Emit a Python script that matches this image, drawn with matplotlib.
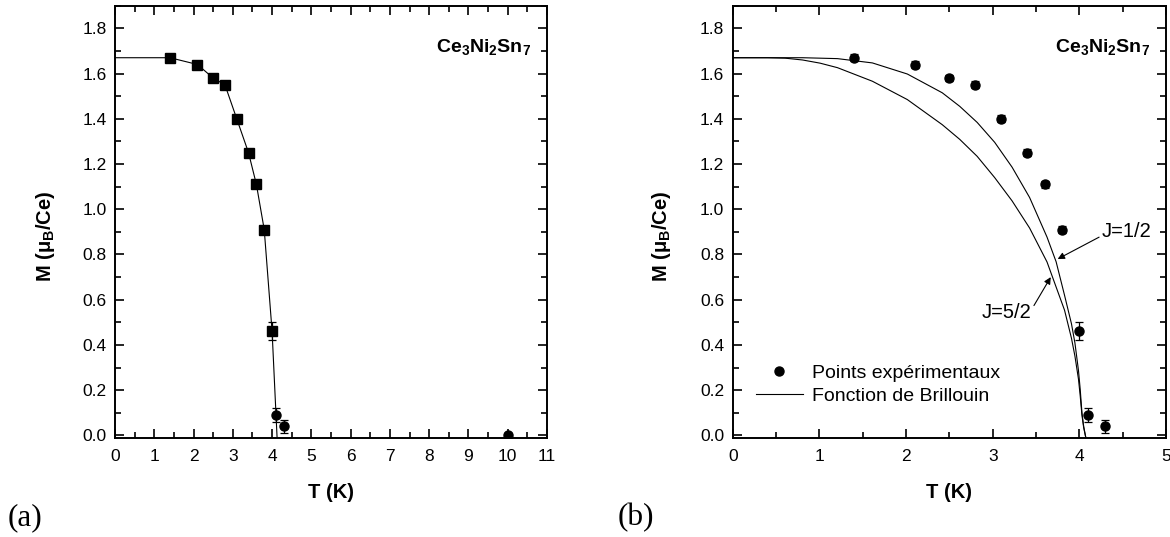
import matplotlib
matplotlib.use("Agg")
import matplotlib.pyplot as plt
from matplotlib.lines import Line2D
from matplotlib.ticker import MultipleLocator, FormatStrFormatter

plt.rcParams['font.family'] = ['Liberation Sans', 'DejaVu Sans']
plt.rcParams['mathtext.fontset'] = 'custom'
plt.rcParams['mathtext.rm'] = 'Liberation Sans'
plt.rcParams['mathtext.bf'] = 'Liberation Sans:bold'
plt.rcParams['mathtext.it'] = 'Liberation Sans:italic'

# ---- data (a) ----
a_T_sq = [1.4, 2.1, 2.5, 2.8, 3.1, 3.4, 3.6, 3.8, 4.0]
a_M_sq = [1.67, 1.64, 1.58, 1.55, 1.40, 1.25, 1.11, 0.91, 0.46]
a_E_sq = [0.015, 0.015, 0.015, 0.015, 0.015, 0.015, 0.015, 0.015, 0.04]
a_T_ci = [4.1, 4.3, 10.0]
a_M_ci = [0.09, 0.04, 0.0]
a_E_ci = [0.03, 0.03, 0.01]
a_line_T = [0.0, 1.4, 2.1, 2.5, 2.8, 3.1, 3.4, 3.6, 3.8, 4.0, 4.1, 4.13]
a_line_M = [1.67, 1.67, 1.64, 1.58, 1.55, 1.40, 1.25, 1.11, 0.91, 0.46, 0.09, -0.02]

# ---- data (b) ----
b_T = [1.4, 2.1, 2.5, 2.8, 3.1, 3.4, 3.6, 3.8, 4.0, 4.1, 4.3]
b_M = [1.67, 1.64, 1.58, 1.55, 1.40, 1.25, 1.11, 0.91, 0.46, 0.09, 0.04]
b_E = [0.015, 0.015, 0.015, 0.015, 0.015, 0.015, 0.015, 0.015, 0.04, 0.03, 0.03]

# Brillouin curves
j12_T = [0.0, 0.806, 1.209, 1.612, 2.015, 2.418, 2.620, 2.821, 3.023, 3.224,
         3.426, 3.627, 3.732, 3.829, 3.909, 3.949, 3.990, 4.010, 4.030, 4.050, 4.080]
j12_M = [1.670, 1.670, 1.666, 1.647, 1.598, 1.515, 1.455, 1.384, 1.296, 1.186,
         1.052, 0.877, 0.768, 0.620, 0.494, 0.409, 0.287, 0.204, 0.100, 0.040, -0.020]
j52_T = [0.0, 0.403, 0.605, 0.806, 1.008, 1.209, 1.612, 2.015, 2.418, 2.620, 2.821,
         3.023, 3.224, 3.426, 3.627, 3.829, 3.909, 3.949, 3.990, 4.010, 4.030, 4.050, 4.080]
j52_M = [1.670, 1.670, 1.668, 1.660, 1.646, 1.626, 1.566, 1.485, 1.374, 1.309, 1.234,
         1.140, 1.037, 0.917, 0.767, 0.554, 0.430, 0.351, 0.249, 0.175, 0.090, 0.035, -0.020]

legend_labels = ['Points expérimentaux', 'Fonction de Brillouin']

W, H = 1170, 537
fig = plt.figure(figsize=(W / 100, H / 100), dpi=100)

ax1 = fig.add_axes([115 / W, (H - 437.7) / H, 432 / W, 432 / H])
ax2 = fig.add_axes([732.7 / W, (H - 437.7) / H, 433.3 / W, 432 / H])

ms = 6.5
eb = dict(ecolor='black', elinewidth=0.9, capsize=3.2, capthick=0.9, zorder=3)
# (a)
ax1.plot(a_line_T, a_line_M, color='black', lw=0.8, zorder=2)
ax1.errorbar(a_T_sq, a_M_sq, yerr=a_E_sq, fmt='s', color='black', ms=ms, **eb)
ax1.errorbar(a_T_ci, a_M_ci, yerr=a_E_ci, fmt='o', color='black', ms=ms, **eb)
ax1.set_xlim(0, 11)

# (b)
ax2.plot(j12_T, j12_M, color='black', lw=0.8, zorder=2)
ax2.plot(j52_T, j52_M, color='black', lw=0.8, zorder=2)
ax2.errorbar(b_T, b_M, yerr=b_E, fmt='o', color='black', ms=ms, **eb)
ax2.set_xlim(0, 5)

for ax in (ax1, ax2):
    ax.set_ylim(-0.01, 1.9)
    ax.xaxis.set_major_locator(MultipleLocator(1))
    ax.xaxis.set_minor_locator(MultipleLocator(0.5))
    ax.xaxis.set_major_formatter(FormatStrFormatter('%d'))
    ax.yaxis.set_major_locator(MultipleLocator(0.2))
    ax.yaxis.set_minor_locator(MultipleLocator(0.1))
    ax.yaxis.set_major_formatter(FormatStrFormatter('%.1f'))
    ax.tick_params(which='both', direction='in', top=True, right=True,
                   width=1.2, labelsize=12.5)
    ax.tick_params(which='major', length=6.5)
    ax.tick_params(which='minor', length=4)
    ax.tick_params(axis='x', pad=8)
    ax.tick_params(axis='y', pad=6)
    for s in ax.spines.values():
        s.set_linewidth(1.4)
    ax.set_xlabel('T (K)', fontsize=14.5, fontweight='bold', labelpad=14)
    ax.set_ylabel(r'M (μ$_\mathbf{B}$/Ce)', fontsize=14.5, fontweight='bold')
    ax.text(0.963, 0.905, r'Ce$_\mathbf{3}$Ni$_\mathbf{2}$Sn$_\mathbf{7}$',
            transform=ax.transAxes, ha='right', va='center',
            fontsize=14, fontweight='bold')

ax1.yaxis.set_label_coords(-0.134, 0.465)
ax2.yaxis.set_label_coords(-0.138, 0.465)

# legend
handles = [Line2D([], [], ls='none', marker='o', color='black', ms=ms),
           Line2D([], [], color='black', lw=0.8)]
ax2.legend(handles, legend_labels,
           loc='center left', bbox_to_anchor=(0.054, 0.123),
           frameon=False, fontsize=14, handlelength=2.4, handletextpad=0.5,
           borderpad=0, borderaxespad=0, labelspacing=0.3)

# annotations
ax2.annotate('J=1/2', xy=(3.75, 0.78), xytext=(4.26, 0.90),
             fontsize=14.5, ha='left', va='center',
             arrowprops=dict(arrowstyle='-|>', color='black', lw=0.8,
                             mutation_scale=10, shrinkA=0, shrinkB=0,
                             relpos=(0.0, 0.3)))
ax2.annotate('J=5/2', xy=(3.67, 0.70), xytext=(2.87, 0.545),
             fontsize=14.5, ha='left', va='center',
             arrowprops=dict(arrowstyle='-|>', color='black', lw=0.8,
                             mutation_scale=10, shrinkA=0, shrinkB=0,
                             relpos=(1.0, 0.6)))

fig.text(8 / W, 1 - 518 / H, '(a)', fontsize=22.5, family='Liberation Serif',
         ha='left', va='center')
fig.text(618 / W, 1 - 518 / H, '(b)', fontsize=22.5, family='Liberation Serif',
         ha='left', va='center')

fig.savefig('out.png', dpi=100)
